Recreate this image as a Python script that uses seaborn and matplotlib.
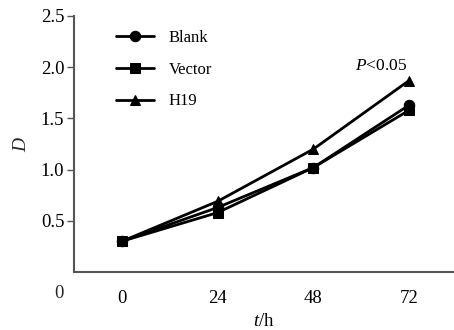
import pandas as pd
import matplotlib
matplotlib.use('Agg')
import matplotlib.pyplot as plt
import seaborn as sns

# data
hours = [0, 24, 48, 72]
blank = [0.30, 0.63, 1.02, 1.63]
vector = [0.30, 0.58, 1.02, 1.58]
h19 = [0.30, 0.69, 1.20, 1.87]
groups = ['Blank', 'Vector', 'H19']
y_ticks = [0.5, 1.0, 1.5, 2.0, 2.5]

df = pd.DataFrame({
    't': hours * 3,
    'D': blank + vector + h19,
    'group': [g for g in groups for _ in hours],
})

sns.set_style('ticks')
plt.rcParams['font.family'] = ['Liberation Serif', 'DejaVu Serif']
plt.rcParams['mathtext.fontset'] = 'custom'
plt.rcParams['mathtext.rm'] = 'Liberation Serif'
plt.rcParams['mathtext.it'] = 'Liberation Serif:italic'

fig = plt.figure(figsize=(4.54, 3.30), dpi=100)
ax = fig.add_axes([74 / 454, 1 - 272 / 330, 379 / 454, 256 / 330])

sns.lineplot(data=df, x='t', y='D', style='group', markers={'Blank': 'o', 'Vector': 's', 'H19': '^'},
             dashes=False, color='black', linewidth=2, markersize=7.5, markeredgecolor='black', ax=ax)

ax.set_xlim(-12, 83)
ax.set_ylim(0, 2.5)
ax.set_xticks(hours)
ax.set_yticks(y_ticks)
ax.set_yticklabels([f'{v:.1f}' for v in y_ticks])
ax.tick_params(axis='x', length=0, pad=13, labelsize=13.5, labelcolor='black')
ax.tick_params(axis='y', length=5, width=1, color='#555555', pad=2, labelsize=13.5, labelcolor='black')
for s in ['top', 'right']:
    ax.spines[s].set_visible(False)
for s in ['left', 'bottom']:
    ax.spines[s].set_color('#555555')
    ax.spines[s].set_linewidth(1.5)

ax.set_xlabel('$\\it{t}$/h', fontsize=13.5, labelpad=4, color='black')
ax.set_ylabel('')
fig.text(22 / 454, 1 - 145 / 330, 'D', fontsize=14, style='italic', rotation=90, ha='center', va='center')
fig.text(59 / 454, 1 - 293 / 330, '0', fontsize=13.5, ha='center', va='center')
ax.text(65, 2.01, '$\\it{P}$<0.05', fontsize=12.5, ha='center', va='center', color='black')

leg = ax.legend(loc='upper left', bbox_to_anchor=(0.07, 1.005), frameon=False, fontsize=12,
                handlelength=2.3, labelspacing=0.95, handletextpad=0.9)
for t in leg.get_texts():
    t.set_color('black')

fig.savefig('out.png', dpi=100)
